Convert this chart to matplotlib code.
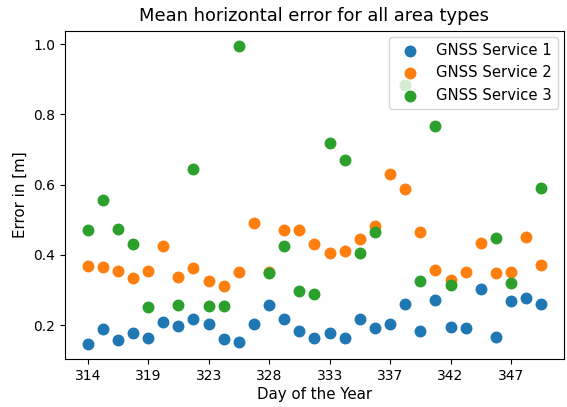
import numpy as np
import matplotlib
matplotlib.use("Agg")
import matplotlib.pyplot as plt

nan = np.nan

days = [314, 315, 316, 317, 319, 320, 321, 322, 323, 325, 326, 327, 328, 329,
        331, 332, 333, 334, 335, 336, 337, 338, 339, 341, 342, 343, 344, 345,
        347, 348, 349]

service1 = [0.146, 0.189, 0.157, 0.178, 0.164, 0.209, 0.197, 0.216, 0.202, 0.160,
            0.152, 0.202, 0.256, 0.216, 0.182, 0.162, 0.178, 0.164, 0.217, 0.191,
            0.202, 0.259, 0.184, 0.272, 0.195, 0.193, 0.302, 0.167, 0.270, 0.276,
            0.259]

service2 = [0.367, 0.364, 0.354, 0.335, 0.353, 0.424, 0.338, 0.362, 0.326, 0.311,
            0.350, 0.491, 0.352, 0.471, 0.471, 0.432, 0.406, 0.411, 0.445, 0.481,
            0.629, 0.588, 0.465, 0.356, 0.328, 0.350, 0.435, 0.349, 0.352, 0.452,
            0.371]

service3 = [0.471, 0.555, 0.473, 0.431, 0.251, nan, 0.256, 0.643, 0.254, 0.254,
            0.995, nan, 0.348, 0.424, 0.296, 0.289, 0.717, 0.669, 0.405, 0.465,
            nan, 0.883, 0.325, 0.767, 0.313, nan, nan, 0.448, 0.319, nan,
            0.589]

x = np.arange(len(days))

fig = plt.figure(figsize=(5.67, 4.07), dpi=100)
ax = fig.add_axes([0.1146, 0.118, 0.88, 0.806])

ax.scatter(x, service1, s=57, label="GNSS Service 1")
ax.scatter(x, service2, s=57, label="GNSS Service 2")
ax.scatter(x, service3, s=57, label="GNSS Service 3")

# every 4th day gets a tick label
ax.set_xticks(x[::4])
ax.set_xticklabels([str(d) for d in days[::4]])
ax.tick_params(labelsize=10)
ax.set_title("Mean horizontal error for all area types", fontsize=12.9, pad=7)
ax.set_xlabel("Day of the Year", fontsize=10.8, labelpad=3)
ax.set_ylabel("Error in [m]", fontsize=10.8)
ax.legend(loc="upper right", fontsize=10.7, borderaxespad=0.4)

fig.savefig("out.png", dpi=100)
